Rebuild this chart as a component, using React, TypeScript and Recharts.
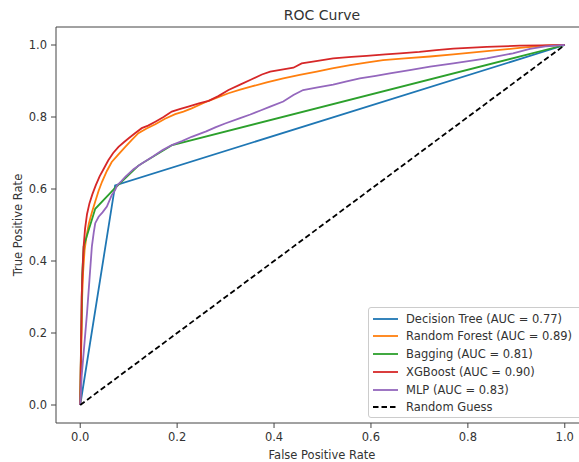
import React from "react";
import { LineChart, Line, XAxis, YAxis, ReferenceArea } from "recharts";

// ---- data ----
const xTicks = [0, 0.2, 0.4, 0.6, 0.8, 1.0];
const yTicks = [0, 0.2, 0.4, 0.6, 0.8, 1.0];

const seriesNames = [
  "Decision Tree (AUC = 0.77)",
  "Random Forest (AUC = 0.89)",
  "Bagging (AUC = 0.81)",
  "XGBoost (AUC = 0.90)",
  "MLP (AUC = 0.83)",
  "Random Guess",
];

const dtFpr = [0, 0.072, 1];
const dtTpr = [0, 0.61, 1];

const rfFpr = [0, 0.001, 0.003, 0.004, 0.006, 0.009, 0.013, 0.018, 0.024, 0.031, 0.038, 0.045, 0.055, 0.065, 0.078, 0.093, 0.106, 0.12, 0.137, 0.155, 0.175, 0.196, 0.213, 0.23, 0.25, 0.265, 0.285, 0.306, 0.33, 0.354, 0.385, 0.419, 0.453, 0.488, 0.52, 0.557, 0.59, 0.625, 0.67, 0.722, 0.77, 0.839, 0.907, 0.96, 1];
const rfTpr = [0, 0.1, 0.2, 0.3, 0.37, 0.43, 0.47, 0.505, 0.535, 0.565, 0.595, 0.62, 0.65, 0.675, 0.695, 0.717, 0.736, 0.755, 0.768, 0.78, 0.795, 0.808, 0.815, 0.824, 0.836, 0.845, 0.855, 0.866, 0.876, 0.885, 0.896, 0.907, 0.917, 0.926, 0.935, 0.944, 0.951, 0.958, 0.963, 0.968, 0.974, 0.983, 0.992, 0.998, 1];

const bgFpr = [0, 0.002, 0.004, 0.007, 0.031, 0.075, 0.12, 0.19, 1];
const bgTpr = [0, 0.2, 0.36, 0.44, 0.545, 0.607, 0.665, 0.722, 1];

const xgFpr = [0, 0.001, 0.002, 0.003, 0.005, 0.007, 0.010, 0.014, 0.019, 0.025, 0.032, 0.040, 0.048, 0.058, 0.068, 0.079, 0.090, 0.100, 0.113, 0.127, 0.140, 0.155, 0.172, 0.189, 0.205, 0.223, 0.245, 0.265, 0.285, 0.306, 0.33, 0.354, 0.375, 0.392, 0.419, 0.44, 0.457, 0.49, 0.522, 0.56, 0.591, 0.63, 0.66, 0.70, 0.735, 0.77, 0.80, 0.839, 0.87, 0.907, 0.95, 1];
const xgTpr = [0, 0.1, 0.2, 0.3, 0.38, 0.44, 0.49, 0.53, 0.56, 0.585, 0.61, 0.635, 0.655, 0.68, 0.70, 0.717, 0.73, 0.741, 0.755, 0.769, 0.776, 0.787, 0.80, 0.815, 0.822, 0.829, 0.838, 0.845, 0.858, 0.875, 0.89, 0.905, 0.918, 0.926, 0.932, 0.937, 0.949, 0.956, 0.963, 0.967, 0.970, 0.974, 0.977, 0.981, 0.986, 0.99, 0.992, 0.995, 0.996, 0.998, 0.999, 1];

const mlpFpr = [0, 0.003, 0.008, 0.014, 0.019, 0.024, 0.028, 0.031, 0.038, 0.046, 0.055, 0.065, 0.072, 0.076, 0.085, 0.093, 0.11, 0.127, 0.15, 0.17, 0.189, 0.21, 0.23, 0.26, 0.28, 0.299, 0.33, 0.351, 0.372, 0.392, 0.419, 0.44, 0.46, 0.49, 0.522, 0.55, 0.577, 0.61, 0.639, 0.68, 0.722, 0.77, 0.839, 0.893, 0.928, 0.96, 1];
const mlpTpr = [0, 0.08, 0.16, 0.255, 0.347, 0.44, 0.48, 0.505, 0.523, 0.535, 0.551, 0.583, 0.597, 0.61, 0.622, 0.634, 0.655, 0.671, 0.69, 0.708, 0.722, 0.733, 0.745, 0.76, 0.772, 0.782, 0.797, 0.807, 0.818, 0.829, 0.843, 0.861, 0.875, 0.882, 0.89, 0.899, 0.907, 0.914, 0.921, 0.93, 0.94, 0.949, 0.963, 0.977, 0.989, 0.996, 1];

const rgFpr = [0, 1];
const rgTpr = [0, 1];

// ---- build ----
const zip = (xs: number[], ys: number[]) => xs.map((x, i) => ({ x, y: ys[i] }));

const colors = ["#1f77b4", "#ff7f0e", "#2ca02c", "#d62728", "#9467bd", "#000000"];
const dashes = [undefined, undefined, undefined, undefined, undefined, "5.5 3"];
const seriesData = [
  zip(dtFpr, dtTpr),
  zip(rfFpr, rfTpr),
  zip(bgFpr, bgTpr),
  zip(xgFpr, xgTpr),
  zip(mlpFpr, mlpTpr),
  zip(rgFpr, rgTpr),
];

const FONT = "'DejaVu Sans', sans-serif";
const TXT = "#333";

export default function App() {
  return (
    <div style={{ position: "absolute", left: 0, top: 0, width: 579, height: 462, overflow: "hidden", background: "#fff", fontFamily: FONT }}>
      <LineChart width={600} height={462} margin={{ top: 27, right: 11, bottom: 0, left: 0 }}>
        <XAxis
          dataKey="x"
          type="number"
          domain={[-0.05, 1.05]}
          ticks={xTicks}
          allowDataOverflow
          height={39}
          tickSize={5}
          tickMargin={5}
          axisLine={false}
          tickLine={{ stroke: "#444" }}
          tickFormatter={(v: number) => v.toFixed(1)}
          tick={{ fill: TXT, fontSize: 11.5, fontFamily: FONT }}
        />
        <YAxis
          type="number"
          domain={[-0.05, 1.05]}
          ticks={yTicks}
          allowDataOverflow
          width={56}
          tickSize={5}
          tickMargin={4}
          axisLine={false}
          tickLine={{ stroke: "#444" }}
          tickFormatter={(v: number) => v.toFixed(1)}
          tick={{ fill: TXT, fontSize: 11.5, fontFamily: FONT }}
        />
        <ReferenceArea x1={-0.05} x2={1.05} y1={-0.05} y2={1.05} fill="none" stroke="#444" strokeWidth={1} ifOverflow="visible" />
        {seriesData.map((d, i) => (
          <Line
            key={seriesNames[i]}
            data={d}
            dataKey="y"
            name={seriesNames[i]}
            type="linear"
            stroke={colors[i]}
            strokeWidth={1.8}
            strokeDasharray={dashes[i]}
            dot={false}
            activeDot={false}
            isAnimationActive={false}
          />
        ))}
      </LineChart>
      {/* title */}
      <div style={{ position: "absolute", left: 222, width: 200, top: 6, textAlign: "center", fontSize: 14, lineHeight: "18px", color: TXT }}>ROC Curve</div>
      {/* x label */}
      <div style={{ position: "absolute", left: 222, width: 200, top: 447, textAlign: "center", fontSize: 11.5, lineHeight: "16px", color: TXT }}>False Positive Rate</div>
      {/* y label */}
      <div style={{ position: "absolute", left: 18 - 100, top: 225 - 8, width: 200, textAlign: "center", fontSize: 11.5, lineHeight: "16px", color: TXT, transform: "rotate(-90deg)" }}>True Positive Rate</div>
      {/* legend */}
      <div style={{ position: "absolute", left: 368, top: 307, width: 216, height: 111, border: "1px solid #ccc", borderRadius: 3, background: "rgba(255,255,255,0.8)", boxSizing: "border-box" }}>
        {seriesNames.map((n, i) => (
          <div key={n} style={{ position: "absolute", left: 0, top: 10.5 + i * 17.75 - 8, height: 16, width: 220 }}>
            <svg width={30} height={16} style={{ position: "absolute", left: 3, top: 0 }}>
              <line x1={1} x2={26} y1={8} y2={8} stroke={colors[i]} strokeWidth={1.8} strokeDasharray={dashes[i]} />
            </svg>
            <span style={{ position: "absolute", left: 37, top: 0, fontSize: 11.5, lineHeight: "16px", color: TXT, whiteSpace: "nowrap" }}>{n}</span>
          </div>
        ))}
      </div>
    </div>
  );
}
